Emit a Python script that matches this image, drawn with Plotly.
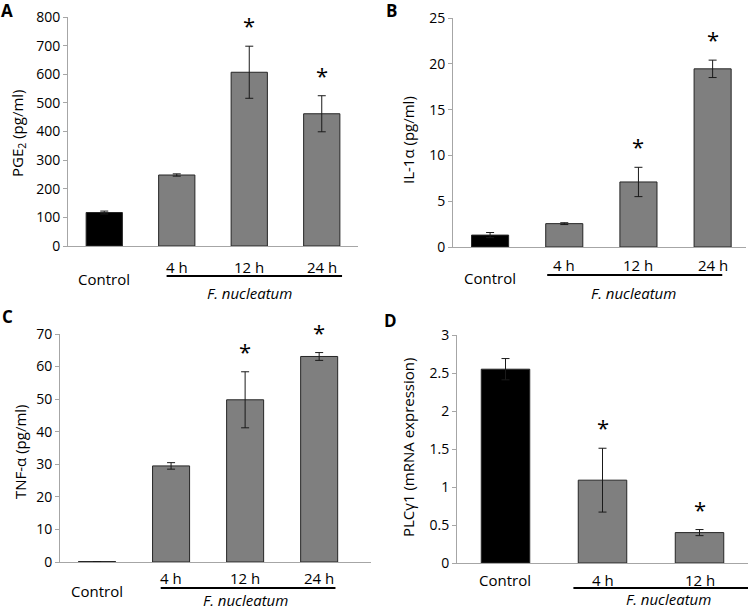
import plotly.graph_objects as go

FONT = "Open Sans"

# ---- data ----
cats_abc = ["Control", "4 h", "12 h", "24 h"]
cats_d = ["Control", "4 h", "12 h"]

pge2 = [117, 248, 607, 462]
pge2_err = [5, 4, 91, 63]
pge2_sig = [False, False, True, True]

il1a = [1.3, 2.55, 7.1, 19.45]
il1a_err = [0.28, 0.1, 1.6, 0.95]
il1a_sig = [False, False, True, True]

tnfa = [0.15, 29.5, 49.8, 63.1]
tnfa_err = [0.0, 1.0, 8.6, 1.2]
tnfa_sig = [False, False, True, True]

plcg1 = [2.55, 1.09, 0.40]
plcg1_err = [0.14, 0.42, 0.04]
plcg1_sig = [False, True, True]

BLACK = "#000000"
GRAY = "#7f7f7f"

W, H = 750, 610


def px(x):
    return x / W


def py(y):
    return (H - y) / H


fig = go.Figure()

panels = [
    dict(cats=cats_abc, v=pge2, e=pge2_err, s=pge2_sig, xa="x", ya="y",
         xd=(68, 358), yd=(246, 17), xr=[-0.5, 3.5], yr=[0, 800], dt=100),
    dict(cats=cats_abc, v=il1a, e=il1a_err, s=il1a_sig, xa="x2", ya="y2",
         xd=(453, 746), yd=(247, 18), xr=[-0.5, 3.45], yr=[0, 25], dt=5),
    dict(cats=cats_abc, v=tnfa, e=tnfa_err, s=tnfa_sig, xa="x3", ya="y3",
         xd=(60, 371), yd=(562, 334), xr=[-0.5, 3.7], yr=[0, 70], dt=10),
    dict(cats=cats_d, v=plcg1, e=plcg1_err, s=plcg1_sig, xa="x4", ya="y4",
         xd=(457, 748), yd=(563, 335), xr=[-0.5, 2.5], yr=[0, 3], dt=0.5),
]

annotations = []
shapes = []

for i, p in enumerate(panels):
    n = len(p["cats"])
    xs = list(range(n))
    colors = [BLACK] + [GRAY] * (n - 1)
    fig.add_trace(go.Bar(
        x=xs, y=p["v"], width=0.5,
        marker=dict(color=colors, line=dict(color="#262626", width=1)),
        error_y=dict(type="data", array=p["e"], visible=True,
                     color="#1a1a1a", thickness=1, width=4),
        xaxis=p["xa"], yaxis=p["ya"], showlegend=False, hoverinfo="skip",
    ))
    sfx = "" if i == 0 else str(i + 1)
    fig.update_layout(**{
        "xaxis" + sfx: dict(domain=[px(p["xd"][0]), px(p["xd"][1])], range=p["xr"],
                            anchor="y" + sfx, showline=True, linecolor="#a6a6a6",
                            linewidth=1, showticklabels=False, ticks="",
                            showgrid=False, zeroline=False, fixedrange=True,
                            automargin=False),
        "yaxis" + sfx: dict(domain=[py(p["yd"][0]), py(p["yd"][1])], range=p["yr"],
                            anchor="x" + sfx, showline=True, linecolor="#a6a6a6",
                            linewidth=1, ticks="outside", ticklen=4, tickcolor="#a6a6a6",
                            dtick=p["dt"], tick0=0, showgrid=False, zeroline=False,
                            tickfont=dict(family=FONT, size=14, color="#000"),
                            ticklabeloverflow="allow",
                            fixedrange=True, automargin=False),
    })
    for xi, val, er, sg in zip(xs, p["v"], p["e"], p["s"]):
        if sg:
            annotations.append(dict(x=xi, y=val + er, xref=p["xa"], yref=p["ya"],
                                    text="*", showarrow=False, yanchor="bottom",
                                    yshift=4, font=dict(family=FONT, size=22, color="#000")))

lab_font = dict(family=FONT, size=15, color="#000")


def label(x, xref, ypix, text):
    annotations.append(dict(x=x, y=py(ypix), xref=xref, yref="paper", text=text,
                            showarrow=False, xanchor="center", yanchor="middle", font=lab_font))


def underline(xref, x0, x1, ypix):
    shapes.append(dict(type="line", xref=xref, yref="paper", x0=x0, x1=x1,
                       y0=py(ypix), y1=py(ypix), line=dict(color="#000", width=2)))


# A
for xi, c in enumerate(cats_abc):
    label(xi, "x", 279 if c == "Control" else 267, c)
underline("x", 0.86, 3.28, 276)
label(2.0, "x", 293, "<i>F. nucleatum</i>")
# B
for xi, c in enumerate(cats_abc):
    label(xi, "x2", 278 if c == "Control" else 265, c)
underline("x2", 0.77, 3.13, 275)
label(1.93, "x2", 293, "<i>F. nucleatum</i>")
# C
for xi, c in enumerate(cats_abc):
    label(xi, "x3", 591 if c == "Control" else 578, c)
underline("x3", 0.86, 3.22, 588)
label(2.0, "x3", 600, "<i>F. nucleatum</i>")
# D
for xi, c in enumerate(cats_d):
    label(xi, "x4", 580, c)
underline("x4", 0.70, 2.5, 588)
label(1.68, "x4", 599, "<i>F. nucleatum</i>")

ytitles = [
    ("PGE<sub>2</sub> (pg/ml)", 18, 133),
    ("IL-1α (pg/ml)", 408, 140),
    ("TNF-α (pg/ml)", 20, 452),
    ("PLCγ1 (mRNA expression)", 408, 448),
]
for t, xx, yy in ytitles:
    annotations.append(dict(x=px(xx), y=py(yy), xref="paper", yref="paper", text=t,
                            textangle=-90, showarrow=False, xanchor="center", yanchor="middle",
                            font=dict(family=FONT, size=15, color="#000")))

for t, xx, yy in [("A", 7, 10), ("B", 392, 10), ("C", 7, 316), ("D", 390, 320)]:
    annotations.append(dict(x=px(xx), y=py(yy), xref="paper", yref="paper", text="<b>%s</b>" % t,
                            showarrow=False, xanchor="center", yanchor="middle",
                            font=dict(family=FONT, size=17, color="#000")))

fig.update_layout(
    width=W, height=H, margin=dict(l=0, r=0, t=0, b=0),
    paper_bgcolor="white", plot_bgcolor="white",
    annotations=annotations, shapes=shapes, bargap=0.5,
)

fig.write_html("out.html", config={"displayModeBar": False},
               post_script="document.body.style.margin='0px';")
